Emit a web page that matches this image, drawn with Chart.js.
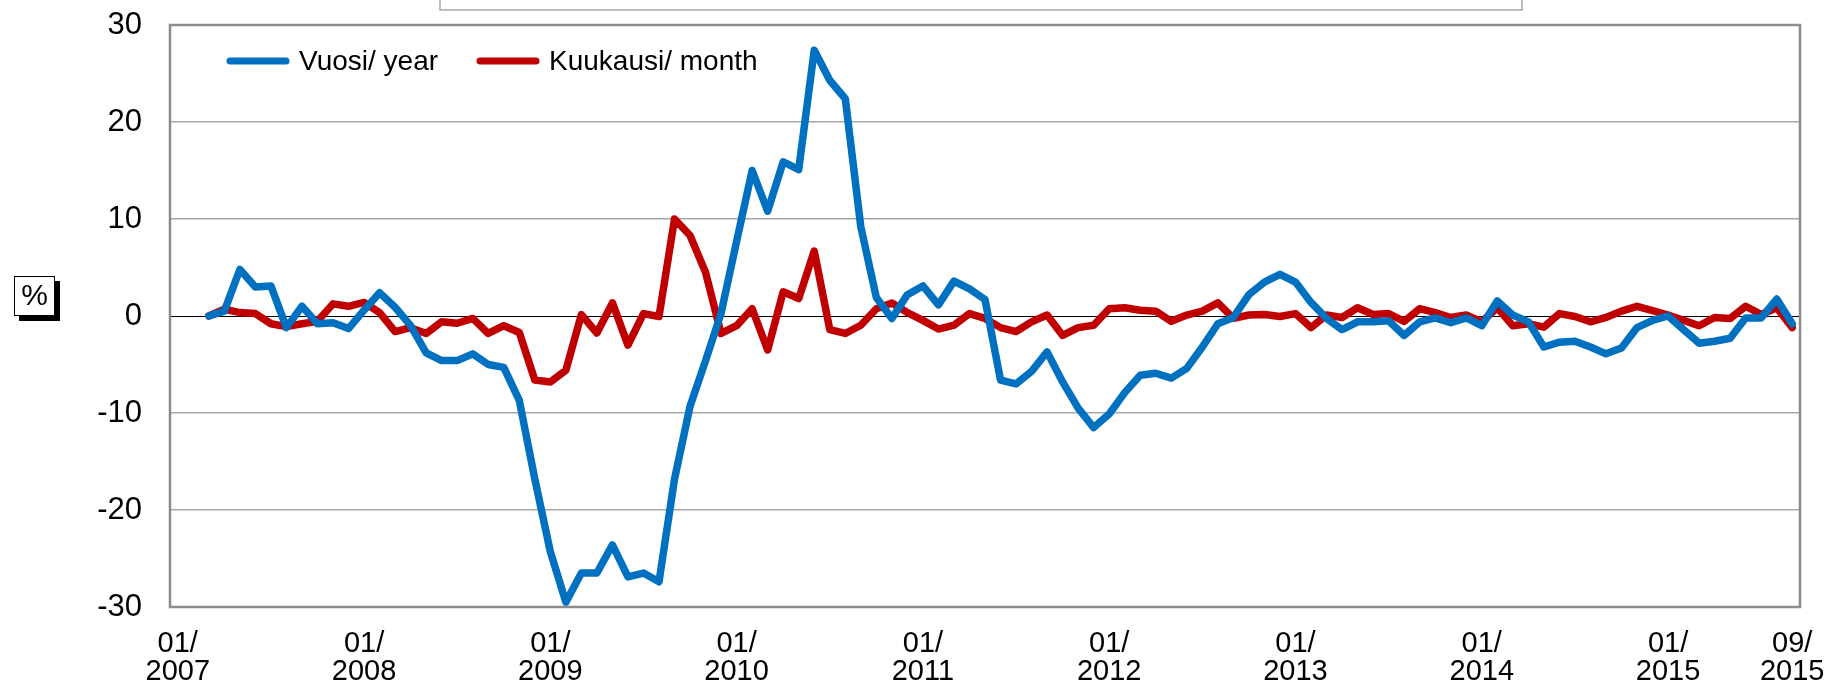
<!DOCTYPE html>
<html>
<head>
<meta charset="utf-8">
<script src="https://cdn.jsdelivr.net/npm/chart.js@4.4.1/dist/chart.umd.min.js"></script>
<style>
  html, body { margin: 0; padding: 0; background: #fff; }
  #wrap { position: relative; width: 1829px; height: 688px; }
</style>
</head>
<body>
<div id="wrap"><canvas id="chart" width="1829" height="688"></canvas></div>
<script>
// categories 01/2007 .. 09/2015
const months = [];
for (let y = 2007; y <= 2015; y++) {
  for (let m = 1; m <= 12; m++) {
    if (y === 2015 && m > 9) break;
    months.push(String(m).padStart(2, '0') + '/' + y);
  }
}

// change from a year earlier, % (series starts 03/2007)
const yearChange = [null, null,
  0, 0.5, 4.8, 3.0, 3.1, -1.2, 1.0, -0.8, -0.7, -1.3,
  0.6, 2.4, 0.9, -1.0, -3.8, -4.6, -4.6, -3.9, -5.0, -5.3,
  -8.7, -16.8, -24.3, -29.5, -26.5, -26.5, -23.6, -26.9, -26.5, -27.4,
  -16.8, -9.3, -4.6, 0.3, 7.7, 15.0, 10.8, 15.9, 15.1, 27.4,
  24.3, 22.4, 9.2, 1.9, -0.25, 2.2, 3.1, 1.15, 3.6, 2.8,
  1.7, -6.6, -7.0, -5.7, -3.7, -6.8, -9.5, -11.5, -10.1, -7.9,
  -6.1, -5.9, -6.4, -5.4, -3.2, -0.8, -0.15, 2.2, 3.5, 4.3,
  3.5, 1.4, -0.25, -1.4, -0.6, -0.6, -0.5, -2.0, -0.6, -0.2,
  -0.7, -0.2, -1.0, 1.55, 0.1, -0.6, -3.2, -2.7, -2.6, -3.2,
  -3.9, -3.3, -1.2, -0.45, 0, -1.4, -2.8, -2.6, -2.3, -0.2,
  -0.2, 1.75, -0.8
];

// change from previous month, %
const monthChange = [null, null,
  0, 0.7, 0.35, 0.25, -0.8, -1.1, -0.8, -0.55, 1.25, 1.0,
  1.4, 0.35, -1.6, -1.2, -1.8, -0.6, -0.75, -0.25, -1.8, -1.0,
  -1.7, -6.6, -6.8, -5.6, 0.15, -1.75, 1.35, -3.0, 0.25, -0.05,
  10.0, 8.3, 4.5, -1.8, -1.0, 0.75, -3.5, 2.5, 1.8, 6.7,
  -1.4, -1.8, -0.95, 0.75, 1.35, 0.35, -0.45, -1.35, -0.95, 0.25,
  -0.25, -1.2, -1.6, -0.6, 0.1, -2.0, -1.2, -0.95, 0.75, 0.85,
  0.6, 0.5, -0.55, 0.1, 0.5, 1.35, -0.25, 0.1, 0.15, -0.05,
  0.25, -1.2, 0.1, -0.15, 0.85, 0.15, 0.25, -0.55, 0.75, 0.35,
  -0.15, 0.1, -0.6, 0.85, -1.0, -0.8, -1.15, 0.25, -0.05, -0.6,
  -0.15, 0.5, 1.0, 0.55, 0.1, -0.45, -1.0, -0.15, -0.25, 1.0,
  0.15, 0.85, -1.2
];

const seriesNames = ['Vuosi/ year', 'Kuukausi/ month'];
const yMin = -30, yMax = 30, yStep = 10;

const FONT = "'Liberation Sans', Arial, sans-serif";

// frame, top box, % label and legend
const decorations = {
  id: 'decorations',
  beforeDatasetsDraw(chart) {
    const { ctx, chartArea: a } = chart;
    ctx.save();
    ctx.strokeStyle = '#8c8c8c';
    ctx.lineWidth = 2.5;
    ctx.strokeRect(a.left, a.top, a.right - a.left, a.bottom - a.top);
    ctx.restore();
  },
  afterDraw(chart) {
    const { ctx, chartArea: a } = chart;
    ctx.save();
    // cut-off box at top
    ctx.strokeStyle = '#a6a6a6';
    ctx.lineWidth = 1.5;
    ctx.strokeRect(440, -5, 1082, 15);

    // % box with shadow
    ctx.fillStyle = '#000';
    ctx.fillRect(19, 281, 41, 40);
    ctx.fillStyle = '#fff';
    ctx.fillRect(14, 276, 41, 40);
    ctx.strokeStyle = '#000';
    ctx.lineWidth = 1;
    ctx.strokeRect(14.5, 276.5, 40, 39);
    ctx.fillStyle = '#000';
    ctx.font = '30px ' + FONT;
    ctx.textAlign = 'center';
    ctx.textBaseline = 'middle';
    ctx.fillText('%', 34.5, 297);

    // legend inside plot
    ctx.font = '28px ' + FONT;
    ctx.textAlign = 'left';
    let x = a.left + 60;
    const y = 61;
    chart.data.datasets.forEach(ds => {
      ctx.strokeStyle = ds.borderColor;
      ctx.lineWidth = 7;
      ctx.lineCap = 'round';
      ctx.beginPath();
      ctx.moveTo(x, y);
      ctx.lineTo(x + 56, y);
      ctx.stroke();
      ctx.fillStyle = '#000';
      ctx.fillText(ds.label, x + 69, y + 1);
      x += 69 + ctx.measureText(ds.label).width + 42;
    });
    ctx.restore();
  }
};

new Chart(document.getElementById('chart'), {
  type: 'line',
  data: {
    labels: months,
    datasets: [
      { label: seriesNames[0], data: yearChange, borderColor: '#0070C0' },
      { label: seriesNames[1], data: monthChange, borderColor: '#C00000' }
    ]
  },
  options: {
    responsive: false,
    animation: false,
    devicePixelRatio: 1,
    layout: { padding: { left: 0, right: 29, top: 25, bottom: 0 } },
    elements: {
      line: { borderWidth: 7.5, tension: 0, borderJoinStyle: 'round', borderCapStyle: 'round' },
      point: { radius: 0 }
    },
    plugins: { legend: { display: false }, tooltip: { enabled: false } },
    scales: {
      x: {
        offset: true,
        grid: { display: false, drawTicks: true, tickLength: 23, tickColor: 'rgba(0,0,0,0)' },
        border: { display: false },
        afterFit: s => { s.height = 81; },
        ticks: {
          autoSkip: false,
          maxRotation: 0,
          padding: 0,
          color: '#000',
          font: { family: FONT, size: 29, lineHeight: 0.97 },
          callback: function (v, i) {
            const lab = months[i];
            if (lab.startsWith('01/') || i === months.length - 1) {
              const p = lab.split('/');
              return [p[0] + '/', p[1]];
            }
            return '';
          }
        }
      },
      y: {
        min: yMin,
        max: yMax,
        grid: {
          drawTicks: true,
          tickLength: 28,
          tickColor: 'rgba(0,0,0,0)',
          color: c => c.tick.value === 0 ? '#000' : '#a6a6a6',
          lineWidth: c => c.tick.value === 0 ? 1 : 1.5
        },
        border: { display: false },
        afterFit: s => { s.width = 170; },
        ticks: {
          stepSize: yStep,
          padding: 0,
          color: '#000',
          font: { family: FONT, size: 31 }
        }
      }
    }
  },
  plugins: [decorations]
});
</script>
</body>
</html>
